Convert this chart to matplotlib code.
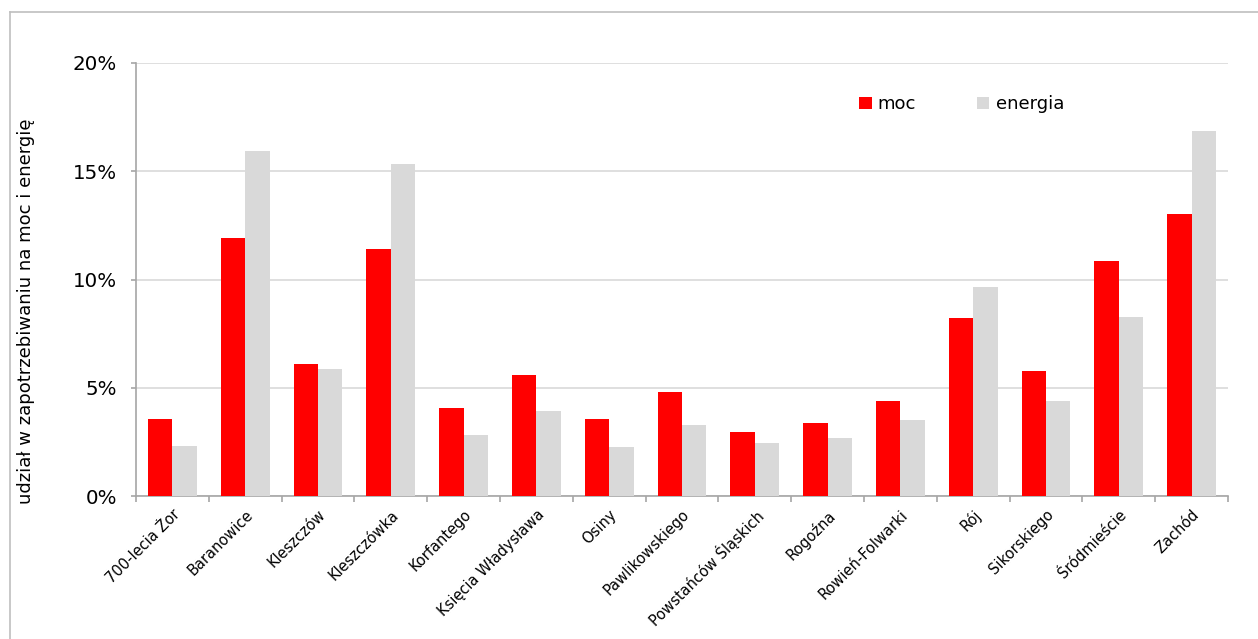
import numpy as np
import matplotlib
matplotlib.use("Agg")
import matplotlib.pyplot as plt
from matplotlib.lines import Line2D
from matplotlib.ticker import FuncFormatter, MultipleLocator

categories = [
    "700-lecia Żor", "Baranowice", "Kleszczów", "Kleszczówka", "Korfantego",
    "Księcia Władysława", "Osiny", "Pawlikowskiego", "Powstańców Śląskich",
    "Rogoźna", "Rowień-Folwarki", "Rój", "Sikorskiego", "Śródmieście", "Zachód",
]
moc = [3.56, 11.92, 6.10, 11.41, 4.06, 5.59, 3.56, 4.80, 2.96, 3.37, 4.39,
       8.22, 5.77, 10.85, 13.03]
energia = [2.31, 15.94, 5.87, 15.33, 2.82, 3.93, 2.26, 3.28, 2.45, 2.68, 3.51,
           9.65, 4.39, 8.27, 16.86]

RED = "#FF0000"
GREY = "#D9D9D9"
AXIS = "#A6A6A6"

plt.rcParams["font.family"] = ["DejaVu Sans"]

fig = plt.figure(figsize=(12.58, 6.39), dpi=100)
ax = fig.add_axes([136 / 1258, 1 - 496 / 639, (1228 - 136) / 1258, (496 - 63) / 639])

x = np.arange(len(categories))
w = 0.335
ax.bar(x - w / 2, moc, width=w, color=RED, label="moc", zorder=3)
ax.bar(x + w / 2, energia, width=w, color=GREY, label="energia", zorder=3)

ax.set_xlim(-0.5, len(categories) - 0.5)
ax.set_ylim(0, 20)
ax.yaxis.set_major_locator(MultipleLocator(5))
ax.yaxis.set_major_formatter(FuncFormatter(lambda v, _: f"{v:.0f}%"))
ax.grid(axis="y", color=GREY, linewidth=1.2, zorder=0)

for side in ("top", "right"):
    ax.spines[side].set_visible(False)
for side in ("left", "bottom"):
    ax.spines[side].set_color(AXIS)
    ax.spines[side].set_linewidth(1.2)

# category ticks sit on the boundaries between groups; labels sit at the group centres
ax.set_xticks(np.arange(len(categories) + 1) - 0.5)
ax.set_xticklabels([])
ax.tick_params(axis="x", which="major", length=4, color=AXIS, width=1.2)
ax.set_xticks(x, minor=True)
ax.set_xticklabels(categories, minor=True, rotation=45, ha="right",
                   rotation_mode="anchor", fontsize=10.5)
ax.tick_params(axis="x", which="minor", length=0, pad=8)
ax.tick_params(axis="y", length=3.6, color=AXIS, width=1.2, labelsize=14.3, pad=10)

ax.set_ylabel("udział w zapotrzebiwaniu na moc i energię", fontsize=13)
ax.yaxis.set_label_coords(-0.0925, 0.427)

ax.legend(loc="upper left", bbox_to_anchor=(0.662, 0.925), ncol=2, frameon=False,
          fontsize=13, handlelength=0.7, handleheight=0.7, handletextpad=0.35,
          columnspacing=3.35, borderaxespad=0, borderpad=0)

# outer chart frame
fig.add_artist(Line2D([10 / 1258, 1], [1 - 12 / 639, 1 - 12 / 639],
                      color="#BFBFBF", linewidth=1.2, transform=fig.transFigure))
fig.add_artist(Line2D([10 / 1258, 10 / 1258], [0, 1 - 12 / 639],
                      color="#BFBFBF", linewidth=1.2, transform=fig.transFigure))

fig.savefig("out.png", dpi=100)
